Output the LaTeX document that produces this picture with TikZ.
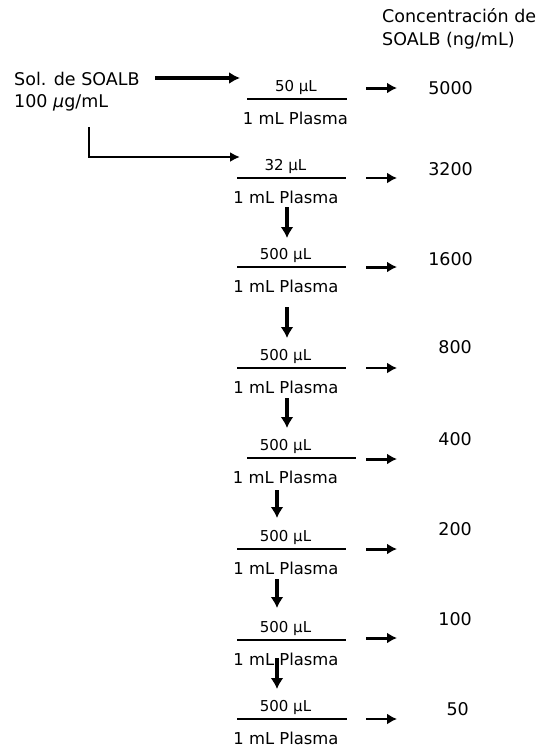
\documentclass[tikz,border=0pt]{standalone}
\usepackage{fontspec}
\setmainfont{DejaVu Sans}
\usetikzlibrary{arrows.meta,calc,positioning}
\definecolor{Ink}{HTML}{000000}

\tikzset{
  txt/.style={inner sep=0pt,text=Ink,font=\fontsize{17.5}{21}\selectfont},
  numtxt/.style={inner sep=0pt,text=Ink,font=\fontsize{15}{18}\selectfont},
  dentxt/.style={inner sep=0pt,text=Ink,font=\fontsize{16.4}{19}\selectfont},
  fracline/.style={color=Ink,line width=1.4pt},
  bigarrow/.style={color=Ink,line width=3.6pt,-{Latex[length=11pt,width=12pt]}},
  elbowarrow/.style={color=Ink,line width=2pt,-{Latex[length=10pt,width=10pt]}},
  harrow/.style={color=Ink,line width=3pt,-{Latex[length=10pt,width=11pt]}},
  harrowthin/.style={color=Ink,line width=1.8pt,-{Latex[length=10pt,width=11pt]}},
  varrow/.style={color=Ink,line width=3.5pt,-{Latex[length=11pt,width=13pt]}}
}

\begin{document}
\begin{tikzpicture}[x=1pt,y=-1pt]
\useasboundingbox (0,0) rectangle (542,748);
% header and stock solution
\node[txt,anchor=base west] (head1) at (382,22) {Concentración de};
\node[txt,anchor=base west] (head2) at (382,45) {SOALB (ng/mL)};
\node[txt,anchor=base west] (sol1) at (14,85) {Sol. de SOALB};
\node[txt,anchor=base west] (sol2) at (14,107) {100 {\itshape µ}g/mL};
% fractions: numerator / line / denominator, then concentration
\foreach \i/\nt/\nx/\la/\lb/\ly/\dx/\ct/\cx/\cy/\ay/\aw in {
  1/50 µL/296/247/347/99/295.5/5000/473/94/88/harrow,
  2/32 µL/285.5/237/346/178/286/3200/473/175/178/harrowthin,
  3/500 µL/285.5/237/346/267/286/1600/473/265/267/harrow,
  4/500 µL/285.5/237/346/368/286/800/472/353/368/harrowthin,
  5/500 µL/285.5/247/356/458/285.5/400/472/445/459/harrow,
  6/500 µL/285.5/237/346/549/286/200/472/535/549/harrow,
  7/500 µL/285.5/237/346/640/286/100/472/625/638/harrow,
  8/500 µL/285.5/237/347/719/286/50/469/715/719/harrowthin}{
  \node[numtxt,anchor=base] (num\i) at (\nx,\ly-7.5) {\nt};
  \coordinate (la\i) at (\la,\ly);
  \coordinate (lb\i) at (\lb,\ly);
  \draw[fracline] (la\i) -- (lb\i);
  \node[dentxt,anchor=base] (den\i) at (\dx,\ly+25) {1 mL Plasma};
  \node[txt,anchor=base east] (conc\i) at (\cx,\cy) {\ct};
  \coordinate (ar\i) at (366,\ay);
  \coordinate (at\i) at (397,\ay);
  \draw[\aw] (ar\i) -- (at\i);
}
% stock solution arrows
\coordinate (big0) at (155,78);
\coordinate (big1) at (240,78);
\draw[bigarrow] (big0) -- (big1);
\coordinate (el0) at (89,127);
\coordinate (el1) at (240,157);
\draw[elbowarrow] (el0) |- (el1);
% serial dilution arrows
\foreach \j/\x/\ya/\yb in {1/287/207/238,2/287/307/338,3/287/398/428,4/277/490/518,5/277/579/608,6/277/658/689}{
  \coordinate (dt\j) at (\x,\ya);
  \coordinate (db\j) at (\x,\yb);
  \draw[varrow] (dt\j) -- (db\j);
}
\end{tikzpicture}
\end{document}
